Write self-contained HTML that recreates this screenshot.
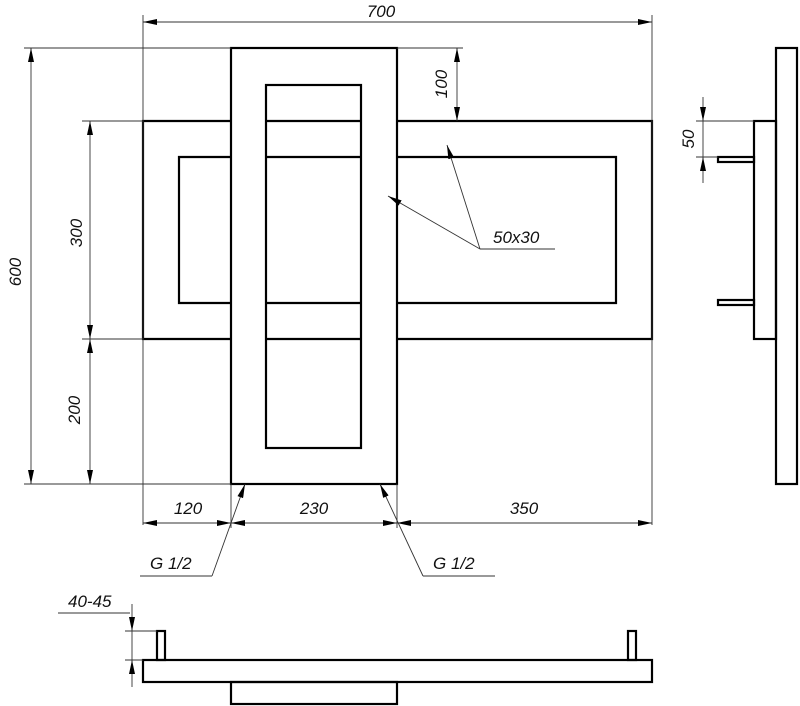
<!DOCTYPE html>
<html><head><meta charset="utf-8"><style>
html,body{margin:0;padding:0;background:#fff;}
svg{display:block}
text{font-family:"Liberation Sans",sans-serif;font-style:italic;font-size:17px;fill:#111;}
</style></head><body>
<svg width="800" height="706" viewBox="0 0 800 706" xmlns="http://www.w3.org/2000/svg">
<defs>
<marker id="a" viewBox="0 0 14 6" refX="14" refY="3" markerWidth="14" markerHeight="6" markerUnits="userSpaceOnUse" orient="auto-start-reverse"><path d="M0,0 L14,3 L0,6 Z" fill="#000"/></marker>
</defs>
<g fill="none" stroke="#000" stroke-width="2.2">
<!-- horizontal frame -->
<path d="M231,121 H143 V339 H231 M397,121 H652 V339 H397"/>
<path d="M231,157 H179 V303 H231 M397,157 H616 V303 H397"/>
<!-- vertical frame -->
<rect x="231" y="48" width="166" height="436"/>
<rect x="266" y="85" width="95" height="363"/>
<path d="M266,121 H361 M266,157 H361 M266,303 H361 M266,339 H361"/>
<!-- side view -->
<rect x="776" y="48" width="21" height="436"/>
<rect x="754" y="121" width="22" height="218"/>
<rect x="718" y="157" width="36" height="5"/>
<rect x="718" y="300" width="36" height="5"/>
<!-- bottom view -->
<rect x="143" y="660" width="509" height="22"/>
<rect x="231" y="682" width="166" height="22"/>
<rect x="157" y="631" width="8" height="29"/>
<rect x="628" y="631" width="8" height="29"/>
</g>
<g fill="none" stroke="#333" stroke-width="0.9">
<!-- ext lines -->
<path d="M143,15 V525 M652,15 V525 M24,48 H231 M24,484 H231 M82,121 H143 M82,339 H143 M397,48 H463 M397,484 V528 M231,484 V528"/>
<path d="M696,121 H754 M696,157 H718"/>
<path d="M125,631 H157 M125,660 H143 M58,613 H130"/>
<!-- dim lines -->
<path d="M143,22 H652" marker-start="url(#a)" marker-end="url(#a)"/>
<path d="M31,48 V484" marker-start="url(#a)" marker-end="url(#a)"/>
<path d="M90,121 V339" marker-start="url(#a)" marker-end="url(#a)"/>
<path d="M90,339 V484" marker-start="url(#a)" marker-end="url(#a)"/>
<path d="M457,48 V121" marker-start="url(#a)" marker-end="url(#a)"/>
<path d="M143,523 H231" marker-start="url(#a)" marker-end="url(#a)"/>
<path d="M231,523 H397" marker-start="url(#a)" marker-end="url(#a)"/>
<path d="M397,523 H652" marker-start="url(#a)" marker-end="url(#a)"/>
<path d="M703,97 V121" marker-end="url(#a)"/>
<path d="M703,183 V157" marker-end="url(#a)"/>
<path d="M703,121 V157"/>
<path d="M132,604 V631" marker-end="url(#a)"/>
<path d="M132,687 V660" marker-end="url(#a)"/>
<path d="M132,631 V660"/>
<!-- leaders -->
<path d="M555,249 H480"/>
<path d="M480,249 L447,145" marker-end="url(#a)"/>
<path d="M480,249 L388,196" marker-end="url(#a)"/>
<path d="M140,576 H212"/>
<path d="M212,576 L245,484" marker-end="url(#a)"/>
<path d="M495,576 H423"/>
<path d="M423,576 L380,484" marker-end="url(#a)"/>
</g>
<text x="381" y="17" text-anchor="middle">700</text>
<text transform="translate(21,272) rotate(-90)" text-anchor="middle">600</text>
<text transform="translate(82,233) rotate(-90)" text-anchor="middle">300</text>
<text transform="translate(80,410) rotate(-90)" text-anchor="middle">200</text>
<text transform="translate(447,84) rotate(-90)" text-anchor="middle">100</text>
<text transform="translate(694,139) rotate(-90)" text-anchor="middle">50</text>
<text x="493" y="243">50x30</text>
<text x="188" y="514" text-anchor="middle">120</text>
<text x="314" y="514" text-anchor="middle">230</text>
<text x="524" y="514" text-anchor="middle">350</text>
<text x="150" y="569">G 1/2</text>
<text x="433" y="569">G 1/2</text>
<text x="68" y="607">40-45</text>
</svg>
</body></html>
